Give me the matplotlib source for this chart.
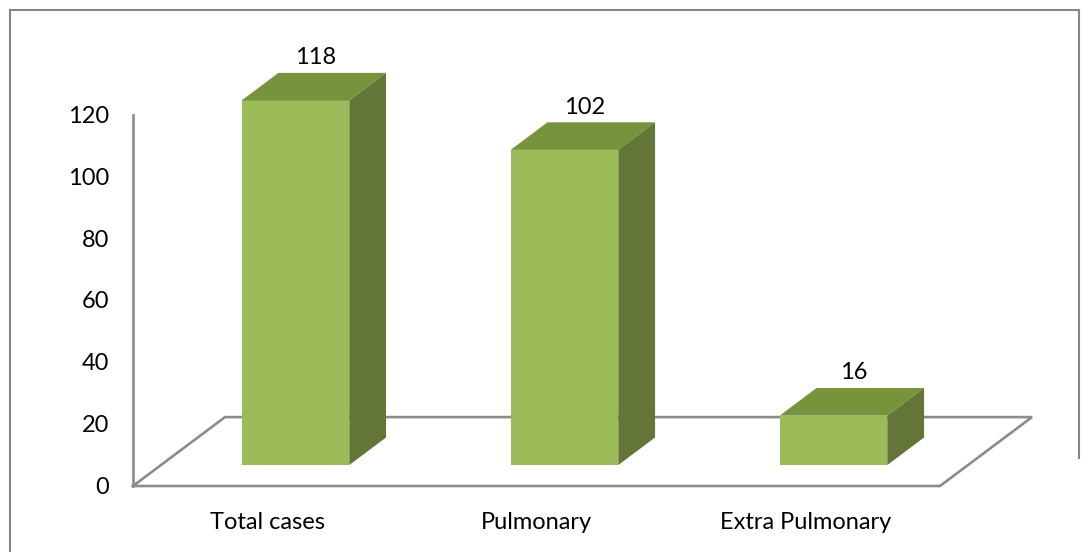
import matplotlib.pyplot as plt
from matplotlib.patches import Polygon

categories = ["Total cases", "Pulmonary", "Extra Pulmonary"]
values = [118, 102, 16]
yticks = [0, 20, 40, 60, 80, 100, 120]

plt.rcParams['font.family'] = ['Lato', 'DejaVu Sans']

front_c = "#9bbb59"
top_c = "#77933c"
side_c = "#637637"
grid_c = "#8c8c8c"

# fake 3d: depth vector of the floor in data units (x in categories, y in values)
floor_dx, floor_dy = 0.342, 22.3
bar_off = 0.304     # bar front sits at this fraction of the floor depth
bar_depth = 0.40
bar_w = 0.40

fig = plt.figure(figsize=(10.9, 5.52), dpi=100)
ax = fig.add_axes([0, 0, 1, 1])
ax.set_xlim(-0.9944, 3.0576)
ax.set_ylim(-21.36, 157.28)
ax.axis("off")

# floor and value axis
n = len(categories)
x0, x1 = -0.5, n - 0.5
floor = [(x0, 0), (x1, 0), (x1 + floor_dx, floor_dy), (x0 + floor_dx, floor_dy), (x0, 0)]
ax.plot([p[0] for p in floor], [p[1] for p in floor], c=grid_c, lw=1.9, zorder=1,
        solid_joinstyle="miter")
ax.plot([x0, x0], [0, max(yticks)], c=grid_c, lw=1.9, zorder=1)

for t in yticks:
    ax.annotate(str(t), (x0, t), xytext=(-17, -1), textcoords="offset points",
                ha="right", va="center", fontsize=17)

for i, lab in enumerate(categories):
    ax.annotate(lab, (i, 0), xytext=(0, -26), textcoords="offset points",
                ha="center", va="center", fontsize=17)

# bars
ox, oy = bar_off * floor_dx, bar_off * floor_dy
dx, dy = bar_depth * floor_dx, bar_depth * floor_dy
xs = [i + ox for i in range(n)]
ax.bar(xs, values, width=bar_w, bottom=oy, color=front_c, zorder=3)

for x, v in zip(xs, values):
    xl, xr = x - bar_w / 2, x + bar_w / 2
    top = oy + v
    ax.add_patch(Polygon([(xl, top), (xr, top), (xr + dx, top + dy), (xl + dx, top + dy)],
                         closed=True, fc=top_c, ec="none", zorder=3))
    ax.add_patch(Polygon([(xr, oy), (xr + dx, oy + dy), (xr + dx, top + dy), (xr, top)],
                         closed=True, fc=side_c, ec="none", zorder=3))
    ax.annotate(str(v), (x + dx / 2 + 0.008, top + dy), xytext=(0, 11),
                textcoords="offset points", ha="center", va="center", fontsize=17)

# chart border
fig.add_artist(plt.Line2D([0.0096, 0.0096], [0, 0.981], transform=fig.transFigure,
                          c="#868686", lw=1.5))
fig.add_artist(plt.Line2D([0.0096, 0.9895], [0.981, 0.981], transform=fig.transFigure,
                          c="#868686", lw=1.5))
fig.add_artist(plt.Line2D([0.9895, 0.9895], [0.981, 0.17], transform=fig.transFigure,
                          c="#868686", lw=1.5))

fig.savefig("out.png", dpi=100)
